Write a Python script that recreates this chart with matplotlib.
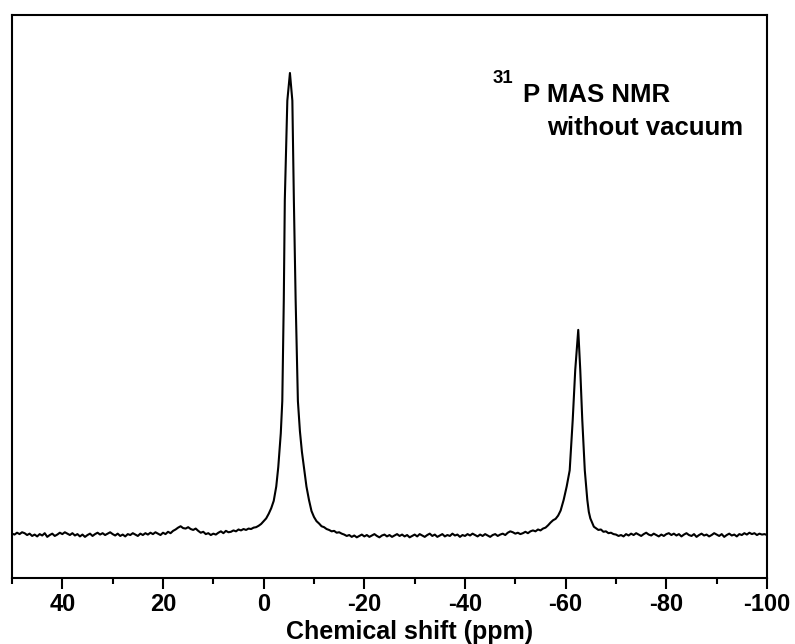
import numpy as np
import matplotlib
matplotlib.use("Agg")
import matplotlib.pyplot as plt

# ---- data (ppm, intensity; main peak = 100) ----
base_a_ppm_start, base_a_ppm_stop = 50.0, 7.0
base_a_int = [0.3, 0.1, 0.5, 0.2, 0.6, 0.4, 0.0, 0.3, -0.2, 0.1,
              -0.3, 0.2, -0.1, 0.4, -0.4, 0.0, 0.3, -0.2, 0.1, 0.5,
              0.2, 0.6, 0.3, 0.0, 0.4, -0.1, 0.2, -0.3, 0.1, -0.4,
              0.0, 0.3, -0.2, 0.2, 0.5, 0.1, 0.4, 0.0, 0.3, 0.6,
              0.2, -0.1, 0.3, -0.2, 0.1, -0.3, 0.2, 0.0, 0.4, 0.1,
              -0.2, 0.3, 0.0, 0.4, 0.1, 0.5, 0.2, 0.6, 0.3, 0.0,
              0.5, 0.2, 0.7, 0.4, 0.9, 1.2, 1.6, 1.9, 1.5, 1.4,
              1.7, 1.3, 1.1, 1.4, 0.9, 0.5, 0.7, 0.2, 0.4, 0.0,
              0.3, 0.1, 0.5, 0.8, 0.4, 0.9, 0.6]

peak1_ppm = [6.5, 6.0, 5.5, 5.0, 4.5, 4.0, 3.5, 3.0, 2.5, 2.0, 1.5, 1.0,
             0.5, 0.0, -0.5, -1.0, -1.5, -2.0, -2.5, -2.9, -3.4, -3.7,
             -4.0, -4.2, -4.7, -5.22, -5.7, -6.0, -6.35, -6.8, -7.2, -7.6,
             -8.0, -8.5, -9.0, -9.5, -10.0, -10.5, -11.0, -11.5, -12.0,
             -12.5, -13.0, -13.5, -14.0, -14.5, -15.0, -15.5]
peak1_int = [0.7, 1.0, 0.8, 1.2, 1.0, 1.3, 1.1, 1.4, 1.3, 1.6, 1.7, 2.0,
             2.4, 3.0, 3.6, 4.6, 5.8, 7.4, 10.5, 14.7, 22.0, 29.0,
             51.0, 72.5, 94.0, 100.0, 94.0, 72.5, 51.0, 29.0, 22.5, 18.0,
             14.7, 10.5, 7.6, 5.2, 3.9, 3.0, 2.5, 1.9, 1.7,
             1.3, 1.1, 0.8, 0.9, 0.5, 0.6, 0.3]

base_b_ppm_start, base_b_ppm_stop = -16.0, -53.0
base_b_int = [0.1, -0.2, 0.0, -0.4, -0.1, -0.5, -0.2, 0.1, -0.3, 0.0,
              -0.4, -0.1, 0.2, -0.2, -0.5, -0.1, 0.1, -0.3, 0.0, -0.4,
              -0.1, 0.2, -0.2, 0.1, -0.3, 0.0, -0.5, -0.2, 0.1, -0.3,
              0.2, -0.1, -0.4, 0.0, 0.3, -0.2, 0.1, -0.4, -0.1, 0.2,
              -0.3, 0.0, -0.2, 0.3, -0.1, 0.1, -0.4, 0.0, -0.2, 0.2,
              -0.1, 0.3, 0.0, -0.3, 0.1, -0.2, 0.2, -0.1, -0.4, 0.0,
              0.2, -0.2, 0.1, 0.3, 0.0, 0.5, 0.8, 0.6, 0.3, 0.5,
              0.2, 0.4, 0.7, 0.4, 0.8]

peak2_ppm = [-53.5, -54.0, -54.5, -55.0, -55.5, -56.0, -56.5, -57.0, -57.5,
             -58.0, -58.5, -59.0, -59.6, -60.2, -60.8, -61.4, -61.9, -62.5,
             -62.9, -63.3, -63.8, -64.3, -64.6, -64.9, -65.3, -65.6, -66.0,
             -66.5, -67.0, -67.5, -68.0, -68.5, -69.0, -69.5]
peak2_int = [1.0, 0.8, 1.2, 1.0, 1.4, 1.6, 2.1, 2.7, 3.2,
             3.5, 4.2, 5.3, 7.6, 10.5, 14.0, 24.9, 35.7, 44.4,
             35.7, 24.9, 14.0, 7.6, 5.0, 3.6, 2.6, 1.8, 1.5,
             1.1, 1.2, 0.7, 0.8, 0.4, 0.5, 0.2]

base_c_ppm_start, base_c_ppm_stop = -70.0, -100.0
base_c_int = [0.1, -0.2, 0.0, -0.3, 0.2, -0.1, 0.3, 0.0, 0.4, 0.1,
              -0.2, 0.2, 0.5, 0.1, -0.1, 0.3, 0.0, -0.3, 0.1, -0.2,
              0.2, 0.4, 0.0, 0.3, -0.1, 0.2, -0.3, 0.1, 0.4, 0.0,
              -0.2, 0.2, -0.4, 0.0, 0.3, -0.1, 0.1, -0.3, 0.0, 0.4,
              0.1, -0.2, 0.2, -0.4, 0.0, 0.3, -0.1, 0.1, -0.3, 0.2,
              0.0, 0.4, 0.1, 0.5, 0.2, 0.4, 0.0, 0.3, 0.1, 0.2, 0.0]

major_ticks = [40, 20, 0, -20, -40, -60, -80, -100]
minor_ticks = [50, 30, 10, -10, -30, -50, -70, -90]
x_label = "Chemical shift (ppm)"
note_sup = "31"
note_line1 = "P MAS NMR"
note_line2 = "without vacuum"


def seg(start, stop, vals):
    p = np.linspace(start, stop, len(vals))
    return list(p), list(vals)


pa, ia = seg(base_a_ppm_start, base_a_ppm_stop, base_a_int)
pb, ib = seg(base_b_ppm_start, base_b_ppm_stop, base_b_int)
pc, ic = seg(base_c_ppm_start, base_c_ppm_stop, base_c_int)
ppm = np.array(pa + peak1_ppm + pb + peak2_ppm + pc)
inten = np.array(ia + peak1_int + ib + peak2_int + ic)
order = np.argsort(-ppm)
ppm, inten = ppm[order], inten[order]

plt.rcParams['font.family'] = ['Liberation Sans', 'DejaVu Sans']
plt.rcParams['axes.unicode_minus'] = False

W, H = 795, 644
fig = plt.figure(figsize=(W / 100, H / 100), dpi=100)
ax = fig.add_axes([12 / W, 1 - 578 / H, (767 - 12) / W, (578 - 15) / H])

ax.plot(ppm, inten, color='black', lw=1.5)
ax.set_xlim(50, -100)
ax.set_ylim(-9.3, 112.55)

ax.set_xticks(major_ticks)
ax.set_xticks(minor_ticks, minor=True)
ax.set_yticks([])
ax.tick_params(axis='x', which='major', direction='out', length=8, width=1.5,
               labelsize=17, pad=3)
ax.tick_params(axis='x', which='minor', direction='out', length=4.5, width=1.5)
for lab in ax.get_xticklabels():
    lab.set_fontweight('bold')
for s in ax.spines.values():
    s.set_linewidth(1.5)

ax.set_xlabel(x_label, fontsize=18, fontweight='bold', va='top')
ax.xaxis.set_label_coords((409.5 - 12) / 755, (578 - 619.5) / 563)

fig.text(493 / W, 1 - 83 / H, note_sup, fontsize=13.4, fontweight='bold',
         ha='left', va='baseline')
fig.text(523 / W, 1 - 101.7 / H, note_line1, fontsize=18.5, fontweight='bold',
         ha='left', va='baseline')
fig.text(547 / W, 1 - 135 / H, note_line2, fontsize=18.5, fontweight='bold',
         ha='left', va='baseline')

fig.savefig("out.png", dpi=100)
